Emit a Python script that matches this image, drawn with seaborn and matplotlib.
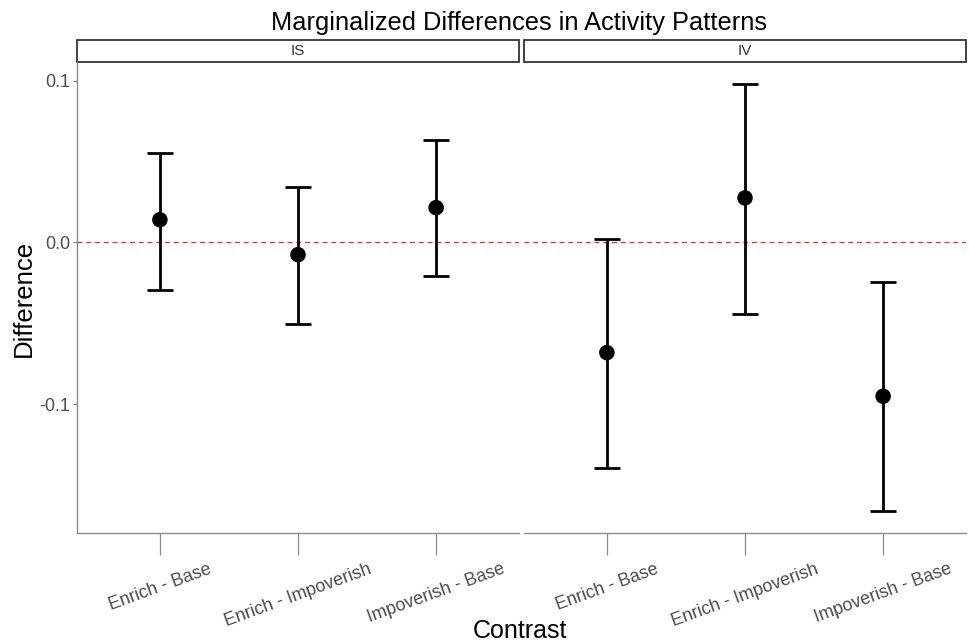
import matplotlib
matplotlib.use('Agg')
import matplotlib.pyplot as plt
from matplotlib.patches import Rectangle
import pandas as pd
import seaborn as sns

# data
panels = ["IS", "IS", "IS", "IV", "IV", "IV"]
contrasts = ["Enrich - Base", "Enrich - Impoverish", "Impoverish - Base"] * 2
estimate = [0.0140, -0.0076, 0.0215, -0.0682, 0.0275, -0.0952]
lower = [-0.0293, -0.0503, -0.0206, -0.1393, -0.0441, -0.1664]
upper = [0.0555, 0.0344, 0.0635, 0.0023, 0.0981, -0.0243]

df = pd.DataFrame({
    "panel": panels, "contrast": contrasts,
    "estimate": estimate, "lower": lower, "upper": upper,
})

sns.set_theme(style="white")
plt.rcParams['font.family'] = ['Liberation Sans', 'DejaVu Sans']

W, H = 970, 644
fig = plt.figure(figsize=(W / 100, H / 100), dpi=100)

ax_top, ax_bot = 62, 533
panel_x = {"IS": (77, 519), "IV": (524, 966)}
axes = {}
for name, (x0, x1) in panel_x.items():
    axes[name] = fig.add_axes([x0 / W, 1 - ax_bot / H, (x1 - x0) / W, (ax_bot - ax_top) / H])

tick_grey = "#4D4D4D"
spine_grey = "#8C8C8C"
order = ["Enrich - Base", "Enrich - Impoverish", "Impoverish - Base"]

for name, ax in axes.items():
    sub = df[df["panel"] == name].set_index("contrast").loc[order].reset_index()
    xs = list(range(len(order)))
    ax.axhline(0, color="#E8312F", lw=0.9, ls=(0, (4, 3)), zorder=1)
    ax.errorbar(xs, sub["estimate"],
                yerr=[sub["estimate"] - sub["lower"], sub["upper"] - sub["estimate"]],
                fmt='none', ecolor='black', elinewidth=2, capsize=9.7, capthick=2, zorder=2)
    sns.scatterplot(x=xs, y=sub["estimate"], color="black", s=125,
                    edgecolor="none", ax=ax, zorder=3)
    ax.set_xlim(-0.6, 2.6)
    ax.set_ylim(-0.1798, 0.1116)
    ax.set_xticks(xs)
    ax.set_xticklabels(order, rotation=20, fontsize=13, color=tick_grey)
    ax.tick_params(axis='x', length=16, width=0.9, color=spine_grey, pad=4, bottom=True)
    ax.set_xlabel("")
    ax.set_ylabel("")
    for side in ["top", "right"]:
        ax.spines[side].set_visible(False)
    ax.spines["bottom"].set_color(spine_grey)
    ax.spines["bottom"].set_linewidth(1.0)
    if name == "IS":
        ax.spines["left"].set_color(spine_grey)
        ax.spines["left"].set_linewidth(1.0)
        ax.set_yticks([-0.1, 0.0, 0.1])
        ax.set_yticklabels(["-0.1", "0.0", "0.1"], fontsize=13, color=tick_grey)
        ax.tick_params(axis='y', length=3, width=0.9, color=spine_grey, pad=2, left=True)
    else:
        ax.spines["left"].set_visible(False)
        ax.set_yticks([])
    # facet strip
    strip_h = 22 / (ax_bot - ax_top)
    ax.add_patch(Rectangle((0, 1.0), 1, strip_h, transform=ax.transAxes,
                           facecolor="white", edgecolor="#333333", lw=1.3, clip_on=False))
    ax.text(0.5, 1.0 + strip_h / 2, name, transform=ax.transAxes, ha="center",
            va="center", fontsize=11, color="#333333")

fig.text(519 / W, 1 - 23 / H, "Marginalized Differences in Activity Patterns",
         ha="center", va="center", fontsize=18.3, color="black")
fig.text(24 / W, 1 - 298 / H, "Difference", rotation=90, ha="center",
         va="center", fontsize=18.5, color="black")
fig.text(520 / W, 1 - 631 / H, "Contrast", ha="center", va="center",
         fontsize=18, color="black")

fig.savefig("out.png", dpi=100, facecolor="white")
